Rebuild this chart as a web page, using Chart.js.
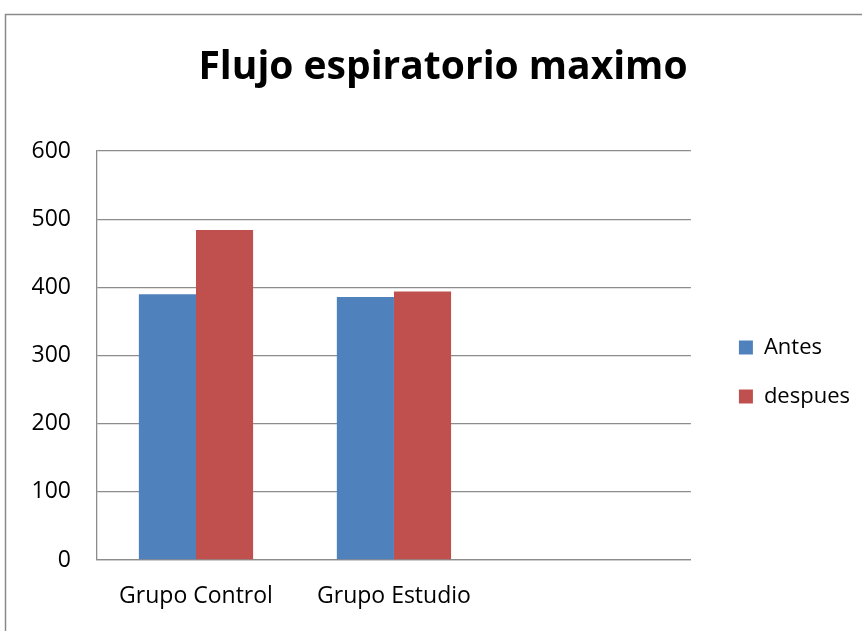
<!DOCTYPE html>
<html>
<head>
<meta charset="utf-8">
<script src="https://cdn.jsdelivr.net/npm/chart.js@4.4.1/dist/chart.umd.min.js"></script>
<style>
  html, body { margin: 0; padding: 0; background: #fff; }
  #wrap { position: relative; width: 862px; height: 631px; }
</style>
</head>
<body>
<div id="wrap"><canvas id="c" width="862" height="631"></canvas></div>
<script>
// Peak expiratory flow, before and after, per group
const categories = ['Grupo Control', 'Grupo Estudio', ''];
const antes = [390, 386, null];
const despues = [484, 394, null];
const yTicks = [0, 100, 200, 300, 400, 500, 600];

const FONT = '"Open Sans", Lato, sans-serif';
const GRID = '#8c8c8c';

// Outer frame of the chart object
const framePlugin = {
  id: 'frame',
  beforeDraw(chart) {
    const ctx = chart.ctx;
    ctx.save();
    ctx.fillStyle = '#fff';
    ctx.fillRect(0, 0, chart.width, chart.height);
    ctx.strokeStyle = '#8a8a8a';
    ctx.lineWidth = 1.5;
    ctx.strokeRect(5.5, 14.5, 1000, 1000);
    ctx.restore();
  }
};

new Chart(document.getElementById('c'), {
  type: 'bar',
  data: {
    labels: categories,
    datasets: [
      { label: 'Antes', data: antes, backgroundColor: '#4F81BD', borderWidth: 0 },
      { label: 'despues', data: despues, backgroundColor: '#C0504D', borderWidth: 0 }
    ]
  },
  options: {
    responsive: false,
    animation: false,
    devicePixelRatio: 1,
    layout: { padding: { left: 26, right: 2, top: 0, bottom: 0 } },
    datasets: { bar: { categoryPercentage: 0.577, barPercentage: 1 } },
    plugins: {
      title: {
        display: true,
        text: 'Flujo espiratorio maximo',
        color: '#000',
        font: { family: FONT, size: 39, weight: 'bold', lineHeight: 1.2 },
        padding: { top: 44.5, bottom: 59.7 }
      },
      legend: {
        position: 'right',
        align: 'center',
        title: { display: true, text: '', font: { size: 10, lineHeight: 1 }, padding: { top: 0, bottom: 103 } },
        labels: {
          color: '#000',
          font: { family: FONT, size: 22 },
          boxWidth: 14,
          boxHeight: 14,
          padding: 27
        }
      },
      tooltip: { enabled: false }
    },
    scales: {
      x: {
        afterFit(s) { s.height = 71; },
        grid: { display: false, drawTicks: false },
        border: { display: true, color: GRID, width: 1.3 },
        ticks: { color: '#000', font: { family: FONT, size: 23 }, padding: 23, maxRotation: 0 }
      },
      y: {
        min: 0,
        max: 600,
        afterBuildTicks(s) { s.ticks = yTicks.map(v => ({ value: v })); },
        afterFit(s) { s.width = 71; },
        grid: { color: GRID, lineWidth: 1.3, drawTicks: false },
        border: { display: true, color: GRID, width: 1.3 },
        ticks: { color: '#000', font: { family: FONT, size: 23 }, padding: 26 }
      },
      // empty strip between the plot and the legend
      gap: {
        type: 'linear',
        position: 'right',
        display: false,
        afterFit(s) { s.width = 21; }
      }
    }
  },
  plugins: [framePlugin]
});
</script>
</body>
</html>
